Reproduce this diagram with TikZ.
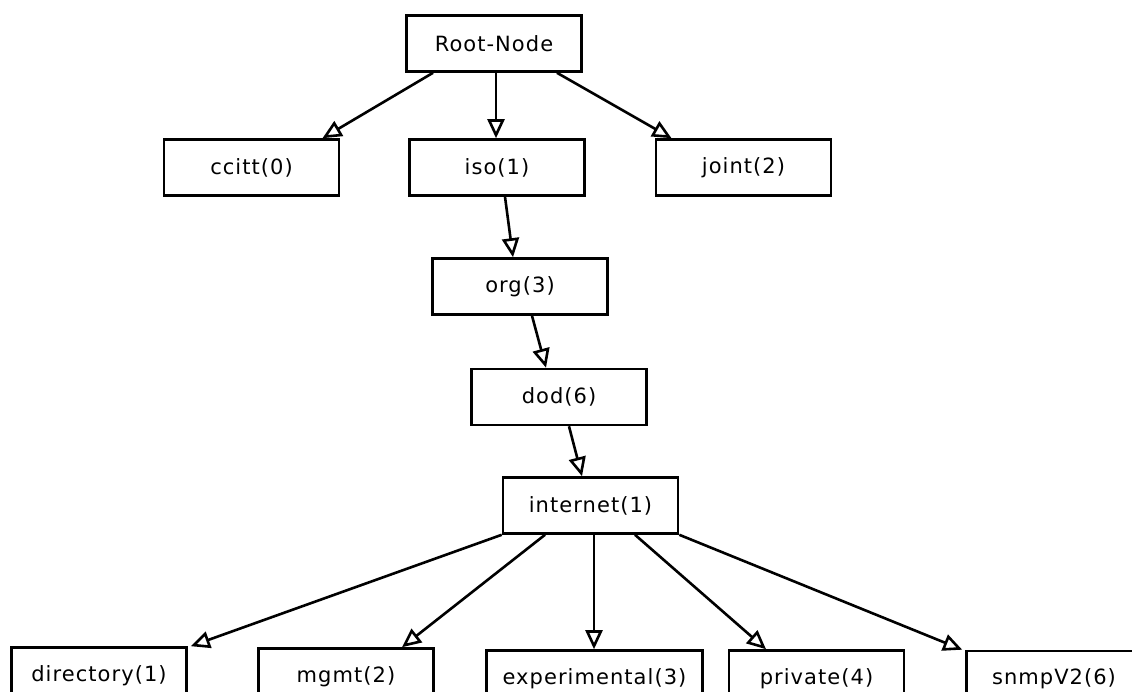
\documentclass[tikz,border=0pt]{standalone}
\usepackage{fontspec}
\newfontfamily\boxfont[LetterSpace=5]{DejaVu Sans}
\usetikzlibrary{arrows.meta}
\begin{document}
\begin{tikzpicture}[x=1pt,y=-1pt,
  oidbox/.style={draw, line width=2.6pt, minimum width=175pt, minimum height=56pt,
    inner sep=0pt, font=\boxfont\fontsize{21}{25}\selectfont},
  link/.style={line width=2.6pt, -{Triangle[open, length=19pt, width=17pt]}}]
  \useasboundingbox (0,0) rectangle (1132,692);
  \fill[white] (0,0) rectangle (1132,692);
  \clip (0,0) rectangle (1132,692);

  % tree of object identifiers
  \node[oidbox] (root) at (494,43.5) {Root-Node};
  \node[oidbox] (ccitt) at (251.5,167.5) {ccitt(0)};
  \node[oidbox] (iso) at (497,167.5) {iso(1)};
  \node[oidbox] (joint) at (743.5,167.5) {joint(2)};
  \node[oidbox] (org) at (520,286.5) {org(3)};
  \node[oidbox] (dod) at (559,397) {dod(6)};
  \node[oidbox] (internet) at (590.5,505.5) {internet(1)};
  \node[oidbox] (directory) at (99,675.5) {directory(1)};
  \node[oidbox] (mgmt) at (346,676.5) {mgmt(2)};
  \node[oidbox, minimum width=216pt] (experimental) at (594.5,678.5) {experimental(3)};
  \node[oidbox] (private) at (816.5,678.5) {private(4)};
  \node[oidbox] (snmp) at (1054,679) {snmpV2(6)};

  % parent -> child links
  \draw[link] ([xshift=-61pt]root.south) -- ([xshift=71pt]ccitt.north);
  \draw[link] ([xshift=2pt]root.south) -- ([xshift=-1pt]iso.north);
  \draw[link] ([xshift=63pt]root.south) -- ([xshift=-72pt]joint.north);
  \draw[link] ([xshift=8pt]iso.south) -- ([xshift=-7pt]org.north);
  \draw[link] ([xshift=12pt]org.south) -- ([xshift=-13pt]dod.north);
  \draw[link] ([xshift=10pt]dod.south) -- ([xshift=-8.5pt]internet.north);
  \draw[link] (internet.south west) -- ([xshift=3pt]directory.north east);
  \draw[link] ([xshift=-45.5pt]internet.south) -- ([xshift=56pt]mgmt.north);
  \draw[link] ([xshift=3.5pt]internet.south) -- ([xshift=3.5pt]internet.south |- experimental.north);
  \draw[link] ([xshift=44.5pt]internet.south) -- ([xshift=-50.5pt]private.north);
  \draw[link] (internet.south east) -- ([xshift=-3pt]snmp.north west);
\end{tikzpicture}
\end{document}
